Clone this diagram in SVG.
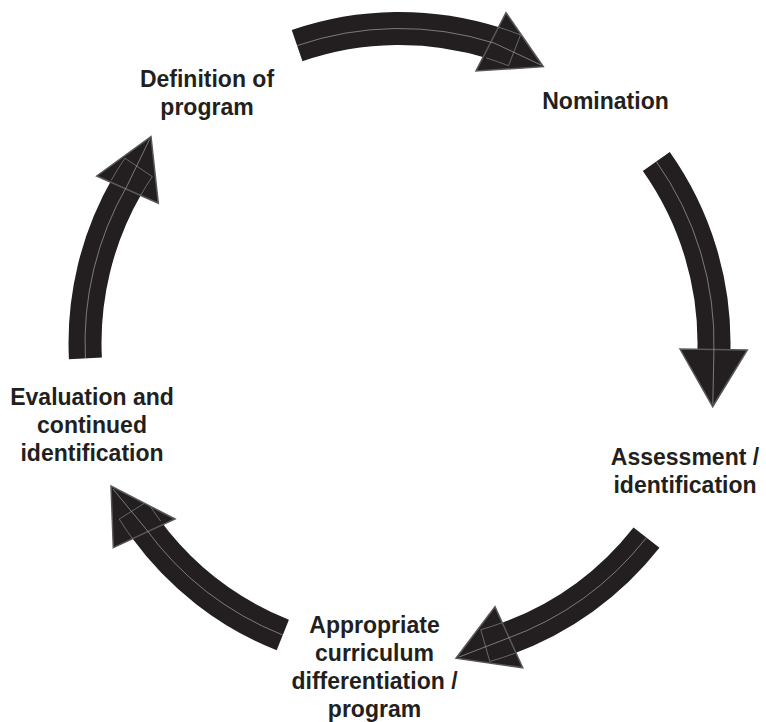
<svg xmlns="http://www.w3.org/2000/svg" width="766" height="722" viewBox="0 0 766 722">
<style>
  .shaft { fill: none; stroke: #231f20; stroke-width: 33; stroke-linecap: butt; }
  .mid { fill: none; stroke: #a0a0a0; stroke-width: 0.7; }
  .inner { fill: none; stroke: #7a7a7a; stroke-width: 0.8; }
  .head { fill: #231f20; stroke: #58585a; stroke-width: 1.5; stroke-linejoin: miter; }
  .lbl { font-family: "Liberation Sans", Arial, Helvetica, sans-serif; font-weight: bold; font-size: 23px; fill: #231f20; text-anchor: middle; }
</style>
<defs>
  <clipPath id="c-top"><polygon points="506,12.7 543.3,66.7 476,71"/></clipPath>
  <clipPath id="c-br"><polygon points="495,606.7 456,658.3 522.7,667.7"/></clipPath>
  <clipPath id="c-bl"><polygon points="175,519 111,486 113.3,547.7"/></clipPath>
  <clipPath id="c-left"><polygon points="96.7,176 151,136.7 158.3,203.3"/></clipPath>
</defs>
<rect width="766" height="722" fill="#ffffff"/>
<g id="connectors">
  <g id="arrow-top">
    <path class="shaft" d="M297.1,45.6 A314.5,314.5 0 0 1 494.1,43.05"/>
    <polygon class="head" points="506,12.7 543.3,66.7 476,71"/>
    <path class="inner" clip-path="url(#c-top)" d="M486.1,57.9 A298,298 0 0 1 508.5,65.7 L520.5,34.9 A331,331 0 0 0 495.7,26.3"/>
    <path class="mid" d="M297.1,45.6 A314.5,314.5 0 0 1 494.1,43.05 L541,65"/>
  </g>
  <g id="arrow-right">
    <path class="shaft" d="M656.3,161.5 A314.5,314.5 0 0 1 713.9,352.3"/>
    <polygon class="head" points="680,349 712.7,406.7 747.3,350"/>
    <path class="mid" d="M656.3,161.5 A314.5,314.5 0 0 1 713.9,352.3 L712.8,404"/>
  </g>
  <g id="arrow-bottom-right">
    <path class="shaft" d="M646.5,537.6 A314.5,314.5 0 0 1 506,638.9"/>
    <polygon class="head" points="495,606.7 456,658.3 522.7,667.7"/>
    <path class="inner" clip-path="url(#c-br)" d="M503.3,622.3 A298,298 0 0 1 480.8,629.7 L489.8,661.5 A331,331 0 0 0 514.8,653.3"/>
    <path class="mid" d="M646.5,537.6 A314.5,314.5 0 0 1 506,638.9 L459,657"/>
  </g>
  <g id="arrow-bottom-left">
    <path class="shaft" d="M282.8,635.05 A314.5,314.5 0 0 1 145.4,528.3"/>
    <polygon class="head" points="175,519 111,486 113.3,547.7"/>
    <path class="inner" clip-path="url(#c-bl)" d="M160.6,521.1 A298,298 0 0 1 147.2,501.5 L119.2,519.1 A331,331 0 0 0 134.1,540.8"/>
    <path class="mid" d="M282.8,635.05 A314.5,314.5 0 0 1 145.4,528.3 L113,489"/>
  </g>
  <g id="arrow-left">
    <path class="shaft" d="M85.4,358.4 A314.5,314.5 0 0 1 127.1,185.75"/>
    <polygon class="head" points="96.7,176 151,136.7 158.3,203.3"/>
    <path class="inner" clip-path="url(#c-left)" d="M139.9,196.7 A298,298 0 0 1 152.3,176.6 L124.9,158.2 A331,331 0 0 0 111.1,180.5"/>
    <path class="mid" d="M85.4,358.4 A314.5,314.5 0 0 1 127.1,185.75 L149.5,139.5"/>
  </g>
</g>
<g id="node-definition">
  <text class="lbl" x="207" y="87">Definition of</text>
  <text class="lbl" x="207" y="115">program</text>
</g>
<g id="node-nomination">
  <text class="lbl" x="605.5" y="109">Nomination</text>
</g>
<g id="node-assessment">
  <text class="lbl" x="685" y="465">Assessment /</text>
  <text class="lbl" x="685" y="493">identification</text>
</g>
<g id="node-curriculum">
  <text class="lbl" x="374.5" y="633">Appropriate</text>
  <text class="lbl" x="374.5" y="661">curriculum</text>
  <text class="lbl" x="374.5" y="689">differentiation /</text>
  <text class="lbl" x="374.5" y="717">program</text>
</g>
<g id="node-evaluation">
  <text class="lbl" x="92" y="405">Evaluation and</text>
  <text class="lbl" x="92" y="433">continued</text>
  <text class="lbl" x="92" y="461">identification</text>
</g>
</svg>
